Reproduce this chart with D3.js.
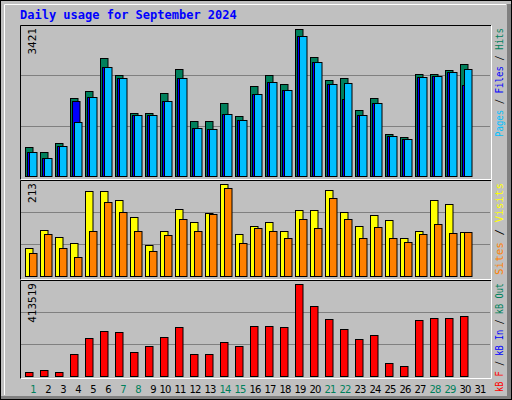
<!DOCTYPE html>
<html><head><meta charset="utf-8">
<script src="https://cdn.jsdelivr.net/npm/d3@7"></script>
<style>body{margin:0;background:#fff}svg{display:block}</style>
</head><body><div id="chart"></div>
<script>
const days = d3.range(1, 32);
const weekend = [1, 7, 8, 14, 15, 21, 22, 28, 29];
const hits = [668,552,761,1808,1978,2739,2343,1459,1459,1924,2483,1273,1273,1692,1389,2087,2343,2134,3421,2762,2227,2273,1529,1808,970,908,2366,2366,2460,2599,0];
const pages = [552,412,691,1250,1831,2529,2273,1412,1412,1738,2273,1110,1087,1436,1296,1901,2180,1994,3251,2646,2134,2157,1412,1692,924,854,2297,2320,2413,2483,0];
const files = pages.map((v, i) => i === 3 ? 1738 : i === 21 ? 1785 : i === 29 ? 2118 : v);
const visits = [65,106,90,76,197,197,176,137,72,104,155,125,146,213,97,116,125,104,153,153,199,148,116,141,130,88,104,176,167,102,0];
const sites = [53,97,65,44,104,171,148,104,58,95,132,104,144,204,76,111,104,88,132,111,181,132,88,113,88,79,97,120,100,102,0];
const kbytes = [20000,29000,20000,96800,169000,201000,196000,110000,133000,174000,219000,101000,101000,151000,133000,223500,223500,219000,413519,314000,255000,210000,165000,183000,60600,47000,251000,260000,260000,269000,0];

const W = 512, H = 400;
const svg = d3.select('#chart').append('svg').attr('width', W).attr('height', H)
  .style('font-family', '"DejaVu Sans Mono", monospace');

// frame
svg.append('rect').attr('width', W).attr('height', H).attr('fill', '#c0c0c0');
svg.append('rect').attr('x', 0.5).attr('y', 0.5).attr('width', W - 1).attr('height', H - 1).attr('fill', 'none').attr('stroke', '#000');
svg.append('path').attr('d', 'M4.5,395V4.5H506').attr('fill', 'none').attr('stroke', '#fff');
svg.append('rect').attr('x', 507).attr('y', 4).attr('width', 4).attr('height', 395).attr('fill', '#808080');
svg.append('rect').attr('x', 1).attr('y', 396).attr('width', 510).attr('height', 3).attr('fill', '#808080');

svg.append('text').attr('x', 20).attr('y', 19).attr('fill', '#0000ff')
  .attr('font-size', 12).attr('font-weight', 'bold').text('Daily usage for September 2024');

const step = 15;
const bx = d => 25 + (d - 1) * step;

const panels = [
  { top: 25, bot: 180, base: 176, peak: 29, max: 3421, len: 109,
    series: [[hits, '#00805c', 0], [files, '#0000ff', 2], [pages, '#00c0ff', 4]],
    label: [['Pages', '#00c0ff'], [' / ', '#000'], ['Files', '#0000ff'], [' / ', '#000'], ['Hits', '#00805c']] },
  { top: 180, bot: 280, base: 276, peak: 184, max: 213, len: 92,
    series: [[visits, '#ffff00', 0], [sites, '#ff8000', 4]],
    label: [['Sites', '#ff8000'], [' / ', '#000'], ['Visits', '#ffff00']] },
  { top: 280, bot: 379, base: 376, peak: 284, max: 413519, len: 109,
    series: [[kbytes, '#ff0000', 0]],
    label: [['kB F', '#ff0000'], [' / ', '#000'], ['kB In', '#0000ff'], [' / ', '#000'], ['kB Out', '#00805c']] }
];

panels.forEach(p => {
  const y = d3.scaleLinear().domain([0, p.max]).range([p.base, p.peak]);
  const g = svg.append('g');
  [1 / 3, 2 / 3].forEach(f => {
    const gy = Math.round(p.base - (p.base - p.top) * f) + 0.5;
    g.append('line').attr('x1', 21).attr('x2', 490).attr('y1', gy).attr('y2', gy)
      .attr('stroke', '#808080');
  });
  p.series.forEach(([vals, col, off]) => {
    g.append('g').selectAll('rect').data(days.filter((d, i) => vals[i] > 0)).join('rect')
      .attr('x', d => bx(d) + off + 0.5)
      .attr('y', d => Math.round(y(vals[d - 1])) + 0.5)
      .attr('width', 7.5)
      .attr('height', d => p.base - Math.round(y(vals[d - 1])))
      .attr('fill', col).attr('stroke', '#000');
  });
  g.append('path').attr('d', `M20.5,${p.bot}V${p.top + 0.5}H491`).attr('fill', 'none').attr('stroke', '#000');
  g.append('path').attr('d', `M20.5,${p.bot - 0.5}H491.5V${p.top + 0.5}`).attr('fill', 'none').attr('stroke', '#fff');
  g.append('text').attr('transform', `translate(36,${p.peak - 1}) rotate(-90)`)
    .attr('text-anchor', 'end').attr('font-size', 11).text(d3.format('d')(p.max));
  const t = g.append('text').attr('transform', `translate(503,${p.peak - 1}) rotate(-90)`)
    .attr('text-anchor', 'end').attr('font-size', 10)
    .attr('textLength', p.len).attr('lengthAdjust', 'spacingAndGlyphs');
  p.label.forEach(([s, c]) => t.append('tspan').attr('fill', c).attr('xml:space', 'preserve').text(s));
});

svg.append('g').selectAll('text').data(days).join('text')
  .attr('x', d => bx(d) + (d < 10 ? 8 : 5)).attr('y', 393).attr('text-anchor', 'middle')
  .attr('font-size', 10).attr('letter-spacing', -0.8).attr('font-family', '"DejaVu Sans", sans-serif')
  .attr('fill', d => weekend.includes(d) ? '#00805c' : '#000').text(d => d);
</script></body></html>
